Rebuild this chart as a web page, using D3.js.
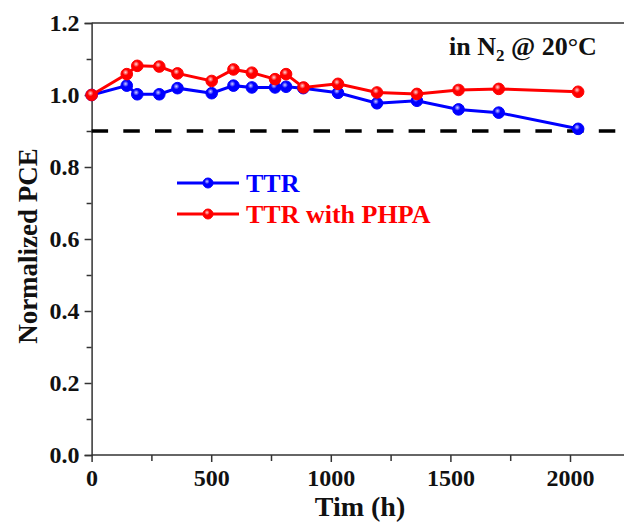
<!DOCTYPE html>
<html><head><meta charset="utf-8">
<script src="https://cdn.jsdelivr.net/npm/d3@7"></script>
<style>body{margin:0;background:#fff}svg{display:block}text{font-family:"Liberation Serif","Times New Roman",serif;font-weight:bold}</style>
</head><body>
<svg id="c" width="624" height="524"></svg>
<script>
const timeTTR = [0, 147, 191, 283, 359, 502, 593, 670, 767, 813, 885, 1030, 1193, 1360, 1534, 1702, 2034];
const pceTTR  = [1.0, 1.026, 1.002, 1.002, 1.019, 1.005, 1.026, 1.021, 1.021, 1.023, 1.019, 1.006, 0.977, 0.984, 0.960, 0.951, 0.906];
const timePHPA = [0, 147, 191, 283, 359, 502, 593, 670, 767, 813, 886, 1030, 1193, 1360, 1534, 1702, 2034];
const pcePHPA  = [1.0, 1.058, 1.081, 1.079, 1.060, 1.039, 1.071, 1.062, 1.044, 1.058, 1.021, 1.031, 1.007, 1.003, 1.014, 1.017, 1.009];
const xTicks = [0, 500, 1000, 1500, 2000];
const yTicks = [0.0, 0.2, 0.4, 0.6, 0.8, 1.0, 1.2];
const seriesNames = ["TTR", "TTR with PHPA"];
const refLevel = 0.9;

const svg = d3.select("#c");
const font = "'Liberation Serif','Times New Roman',serif";
const x = d3.scaleLinear().domain([0, 2250]).range([91.6, 91.6 + 2250 * 0.2392]);
const y = d3.scaleLinear().domain([0, 1.2]).range([455, 23]);

const defs = svg.append("defs");
[["gb", "#0000ff", "#d0d0ff"], ["gr", "#ff0000", "#ffd6d6"]].forEach(([id, c, h]) => {
  const g = defs.append("radialGradient").attr("id", id).attr("cx", "0.4").attr("cy", "0.35").attr("r", "0.65");
  g.append("stop").attr("offset", "0").attr("stop-color", h);
  g.append("stop").attr("offset", "0.4").attr("stop-color", c);
  g.append("stop").attr("offset", "1").attr("stop-color", c);
});

// top frame line
svg.append("line").attr("x1", x(0)).attr("x2", 624).attr("y1", y(1.2)).attr("y2", y(1.2))
  .attr("stroke", "#333").attr("stroke-width", 1.5);

// axes
const xAx = svg.append("g").attr("transform", `translate(0,${y(0)})`)
  .call(d3.axisBottom(x).tickValues(xTicks).tickFormat(d3.format("d")).tickSize(7).tickPadding(7));
const xMinor = svg.append("g").attr("transform", `translate(0,${y(0)})`)
  .call(d3.axisBottom(x).tickValues([250, 750, 1250, 1750, 2250]).tickFormat("").tickSize(6));
const yAx = svg.append("g").attr("transform", `translate(${x(0)},0)`)
  .call(d3.axisLeft(y).tickValues(yTicks).tickFormat(d3.format(".1f")).tickSize(7).tickPadding(5));
const yMinor = svg.append("g").attr("transform", `translate(${x(0)},0)`)
  .call(d3.axisLeft(y).tickValues([0.1, 0.3, 0.5, 0.7, 0.9, 1.1]).tickFormat("").tickSize(5));
[xAx, xMinor, yAx, yMinor].forEach(g => {
  g.attr("font-family", null).attr("font-size", null);
  g.select(".domain").attr("stroke", "#333").attr("stroke-width", 1.5);
  g.selectAll(".tick line").attr("stroke", "#333").attr("stroke-width", 1.5);
  g.selectAll("text").style("font-family", font).style("font-weight", "bold").style("font-size", "24px").attr("fill", "#111");
});
xAx.select(".domain").attr("d", `M${x(0)},0H640`);
xMinor.select(".domain").remove();
yMinor.select(".domain").remove();

// reference dashed line
svg.append("line").attr("x1", x(0)).attr("x2", 624).attr("y1", y(refLevel)).attr("y2", y(refLevel))
  .attr("stroke", "#000").attr("stroke-width", 3.5).attr("stroke-dasharray", "16.5,15.2");

const line = d3.line().x(d => x(d[0])).y(d => y(d[1]));
const sets = [
  { t: timeTTR, v: pceTTR, c: "#0000ff", g: "gb" },
  { t: timePHPA, v: pcePHPA, c: "#ff0000", g: "gr" }
];
sets.forEach(s => {
  const pts = s.t.map((t, i) => [t, s.v[i]]);
  svg.append("path").attr("d", line(pts)).attr("fill", "none").attr("stroke", s.c).attr("stroke-width", 3);
  svg.append("g").selectAll("circle").data(pts).join("circle")
    .attr("cx", d => x(d[0])).attr("cy", d => y(d[1])).attr("r", 5.8)
    .attr("fill", `url(#${s.g})`).attr("stroke", s.c).attr("stroke-width", 1);
});

// legend
const leg = [{ n: seriesNames[0], c: "#0000ff", g: "gb", y: 183 }, { n: seriesNames[1], c: "#ff0000", g: "gr", y: 214 }];
leg.forEach(l => {
  svg.append("line").attr("x1", 177).attr("x2", 239).attr("y1", l.y).attr("y2", l.y).attr("stroke", l.c).attr("stroke-width", 3);
  svg.append("circle").attr("cx", 208).attr("cy", l.y).attr("r", 5).attr("fill", `url(#${l.g})`).attr("stroke", l.c).attr("stroke-width", 1);
  svg.append("text").attr("x", 246).attr("y", l.y + 9).text(l.n)
    .style("font-size", "26px").attr("fill", l.c);
});

// annotation
const ann = svg.append("text").attr("x", 449).attr("y", 55).style("font-size", "26px").attr("fill", "#111");
ann.append("tspan").text("in N");
ann.append("tspan").text("2").style("font-size", "17px").attr("dy", 6);
ann.append("tspan").text(" @ 20\u00B0C").attr("dy", -6);

// axis titles
svg.append("text").attr("x", 360).attr("y", 516).attr("text-anchor", "middle")
  .style("font-size", "28px").attr("fill", "#111").text("Tim (h)");
svg.append("text").attr("transform", `translate(37,246) rotate(-90)`).attr("text-anchor", "middle")
  .style("font-size", "27px").attr("fill", "#111").text("Normalized PCE");
</script>
</body></html>
